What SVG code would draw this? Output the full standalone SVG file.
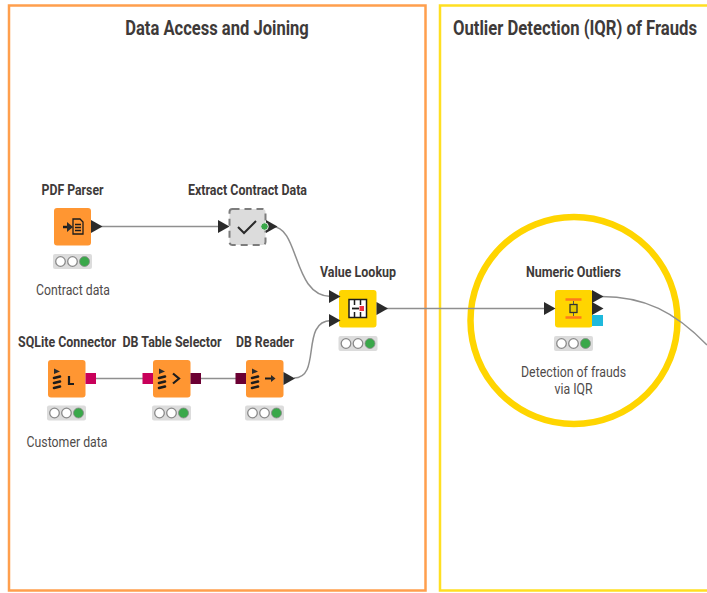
<svg xmlns="http://www.w3.org/2000/svg" width="707" height="593" viewBox="0 0 707 593">
<style>
text{font-family:"Roboto","Liberation Sans",sans-serif;text-anchor:middle}
.title{font-size:20px;font-weight:700;fill:#3e3a39}
.name{font-size:14px;font-weight:700;fill:#3e3a39}
.note{font-size:14px;fill:#4f4b4a}
.wire{fill:none;stroke:#8f8f8f;stroke-width:1.500}
.lamp{fill:#fff;stroke:#8a8a8a;stroke-width:1.300}
.ok{fill:#3aa84a;stroke:#8a8a8a;stroke-width:.8}
.tray{fill:#dcdcdc}
.tri{fill:#2b2b2b}
</style>
<defs>
<g id="st"><rect class="tray" x="-19.500" y="0" width="39" height="15" rx="2"/><circle class="lamp" cx="-12" cy="7.500" r="4.800"/><circle class="lamp" cx="0" cy="7.500" r="4.800"/><circle class="ok" cx="12" cy="7.500" r="5"/></g>
<path id="port" class="tri" d="M0-6.500L11.500 0L0 6.500Z"/>
<g id="dbg"><path class="tri" d="M-6-10L0-7L-6-4.500Z"/><path d="M-6-0.500L0-2M-6 4.500L0 3M-6 9.500L0 8" fill="none" stroke="#1c1c1c" stroke-width="2.600" stroke-linecap="round"/></g>
</defs>
<rect x="9" y="5.500" width="416.500" height="585" fill="none" stroke="#ff9f4d" stroke-width="2.500"/>
<rect x="440" y="5.500" width="300" height="585" fill="none" stroke="#ffdf22" stroke-width="2.500"/>
<text class="title" transform="translate(217 34.500) scale(.828 1)">Data Access and Joining</text>
<text class="title" transform="translate(575 34.500) scale(.834 1)">Outlier Detection (IQR) of Frauds</text>
<circle cx="574" cy="320.500" r="103.500" fill="none" stroke="#ffd500" stroke-width="6.500"/>
<g id="connectors">
<path class="wire" d="M100 226.500H220"/>
<path class="wire" d="M272 226.500C300 226.500 292 296 331 296.500"/>
<path class="wire" d="M294 378C322 378 300 321 331 320.500"/>
<path class="wire" d="M96 378.500H143M200 378.500H236"/>
<path class="wire" d="M386 308.500H547"/>
<path class="wire" d="M601 296.500C645 296.500 675 312 707 345"/>
</g>
<g id="pdf-parser">
<text class="name" x="72.500" y="194.500" textLength="62" lengthAdjust="spacingAndGlyphs">PDF Parser</text>
<rect x="54" y="208" width="37" height="37.500" rx="3" fill="#ff9632"/>
<path d="M63 227H69" stroke="#1c1c1c" stroke-width="2.500"/><path class="tri" d="M67 222L73 227L67 232Z"/>
<path d="M73 219V234H83V222L80 219Z M75 224.500H81M75 227.500H81M75 230.500H81" fill="none" stroke="#1c1c1c" stroke-width="1.300"/>
<use href="#port" x="91" y="226.500"/>
<use href="#st" x="72.500" y="254"/>
<text class="note" x="73" y="294.500" textLength="74" lengthAdjust="spacingAndGlyphs">Contract data</text>
</g>
<g id="extract-contract-data">
<text class="name" x="247.500" y="194.500" textLength="119" lengthAdjust="spacingAndGlyphs">Extract Contract Data</text>
<use href="#port" x="218" y="226.500"/>
<rect x="229.500" y="209" width="36" height="36" rx="3" fill="#dcdcdc" stroke="#7d7d7d" stroke-width="2" stroke-dasharray="7 5"/>
<path d="M238 227L244 233L256 221" fill="none" stroke="#2b2b2b" stroke-width="2"/>
<use href="#port" x="266" y="226.500"/>
<circle cx="264.500" cy="226.500" r="3.800" fill="#3aa84a" stroke="#e6e6e6"/>
</g>
<g id="value-lookup">
<text class="name" x="358" y="276.500" textLength="76" lengthAdjust="spacingAndGlyphs">Value Lookup</text>
<rect x="339" y="290" width="37.500" height="37.500" rx="3" fill="#ffd500"/>
<use href="#port" x="329" y="296.500"/><use href="#port" x="329" y="320.500"/>
<use href="#port" x="376.500" y="308.500"/>
<rect x="349" y="299.500" width="17.500" height="18" fill="#fff" stroke="#1c1c1c" stroke-width="1.500"/>
<path d="M354.500 300V305M354.500 312V317M360.500 300V305M360.500 312V317" stroke="#1c1c1c" stroke-width="1.500"/>
<path d="M352 308.500H359" stroke="#1c1c1c" stroke-width="1.800"/>
<rect x="359.500" y="306" width="4.500" height="5" fill="#ee3344"/>
<use href="#st" x="358" y="336"/>
</g>
<g id="numeric-outliers">
<text class="name" x="573.500" y="276.500" textLength="95" lengthAdjust="spacingAndGlyphs">Numeric Outliers</text>
<rect x="555" y="290" width="37.500" height="37.500" rx="3" fill="#ffd500"/>
<use href="#port" x="544" y="308.500"/>
<use href="#port" x="592" y="296.500"/><use href="#port" x="592" y="308.500"/>
<rect x="592" y="315" width="11" height="11" fill="#1fb9dc"/>
<path d="M565.500 299.500H581.500M565.500 317.500H581.500" stroke="#ff7a1a" stroke-width="2.500"/>
<path d="M573.500 301V316" stroke="#555" stroke-width="1"/>
<rect x="570" y="304.500" width="7" height="8" fill="#e6c800" stroke="#333" stroke-width="1.300"/>
<use href="#st" x="573.500" y="336"/>
<text class="note" x="573.500" y="376.500" textLength="105" lengthAdjust="spacingAndGlyphs">Detection of frauds</text>
<text class="note" x="573.500" y="393.500" textLength="38" lengthAdjust="spacingAndGlyphs">via IQR</text>
</g>
<g id="sqlite-connector">
<text class="name" x="67" y="346.500" textLength="98" lengthAdjust="spacingAndGlyphs">SQLite Connector</text>
<rect x="48" y="360" width="37.500" height="37.500" rx="3" fill="#ff9632"/>
<use href="#dbg" x="60" y="378.500"/>
<path d="M69 376V384H74" fill="none" stroke="#1c1c1c" stroke-width="2.200"/>
<rect x="85.500" y="373" width="10.500" height="11" fill="#c8005a"/>
<use href="#st" x="66.500" y="405.500"/>
<text class="note" x="67" y="446.500" textLength="81" lengthAdjust="spacingAndGlyphs">Customer data</text>
</g>
<g id="db-table-selector">
<text class="name" x="172" y="346.500" textLength="99" lengthAdjust="spacingAndGlyphs">DB Table Selector</text>
<rect x="153" y="360" width="37.500" height="37.500" rx="3" fill="#ff9632"/>
<rect x="142.500" y="373" width="10.500" height="11" fill="#c8005a"/>
<use href="#dbg" x="165" y="378.500"/>
<path d="M173 373.500L179 378.500L173 383.500" fill="none" stroke="#1c1c1c" stroke-width="2.200"/>
<rect x="190.500" y="373" width="10.500" height="11" fill="#6b0033"/>
<use href="#st" x="171.500" y="405.500"/>
</g>
<g id="db-reader">
<text class="name" x="265" y="346.500" textLength="58" lengthAdjust="spacingAndGlyphs">DB Reader</text>
<rect x="246" y="360" width="37.500" height="37.500" rx="3" fill="#ff9632"/>
<rect x="235.500" y="373" width="10.500" height="11" fill="#6b0033"/>
<use href="#dbg" x="258" y="378.500"/>
<path d="M265 378.500H272" stroke="#1c1c1c" stroke-width="2"/><path class="tri" d="M271 375L275.500 378.500L271 382Z"/>
<use href="#port" x="283.500" y="378.500"/>
<use href="#st" x="264.500" y="405.500"/>
</g>
</svg>
